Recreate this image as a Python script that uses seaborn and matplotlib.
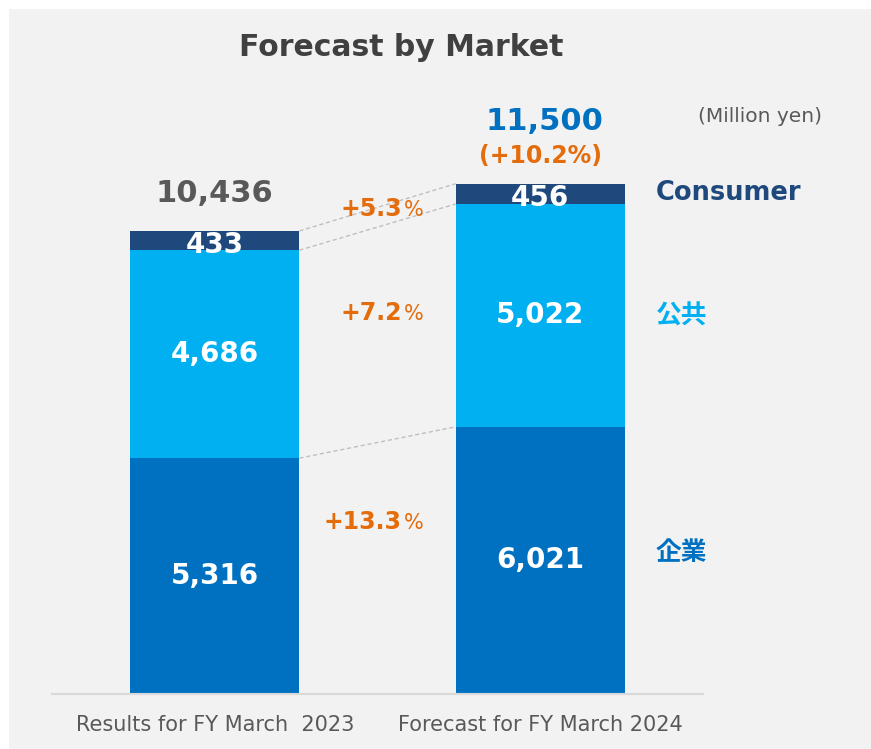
import matplotlib
matplotlib.use("Agg")
import matplotlib.pyplot as plt
import seaborn as sns
import pandas as pd
from matplotlib.patches import Rectangle

sns.set_theme(style="white")
plt.rcParams['font.family'] = ['DejaVu Sans', 'Noto Sans CJK JP']

# data (million yen)
periods = ["Results for FY March  2023", "Forecast for FY March 2024"]
enterprise = [5316, 6021]
public = [4686, 5022]
consumer = [433, 456]
totals = [10436, 11500]
growth_seg = ["+13.3", "+7.2", "+5.3"]   # enterprise, public, consumer
growth_total = "(+10.2%)"
seg_names = ["企業", "公共", "Consumer"]

c_ent = "#0070C0"
c_pub = "#00B0F0"
c_con = "#1F497D"
c_orange = "#E46C0A"
c_gray = "#595959"

df = pd.DataFrame({
    "period": periods,
    "ent": enterprise,
    "pub": public,
    "con": consumer,
})
df["ent_pub"] = df["ent"] + df["pub"]
df["top"] = df["ent_pub"] + df["con"]

fig = plt.figure(figsize=(8.71, 7.49), dpi=100, facecolor="white")
# grey panel
fig.patches.append(Rectangle((9 / 871, 0), 1, 1 - 9 / 749, transform=fig.transFigure,
                             facecolor="#F2F2F2", edgecolor="none", zorder=-1))

ax = fig.add_axes([52 / 871, 55 / 749, 651 / 871, 665.6 / 749])
ax.set_facecolor("none")

bw = 0.52
for col, c in [("top", c_con), ("ent_pub", c_pub), ("ent", c_ent)]:
    sns.barplot(data=df, x="period", y=col, color=c, width=bw, saturation=1,
                linewidth=0, edgecolor="none", ax=ax)

ax.set_xlim(-0.5, 1.5)
ax.set_ylim(0, 15000)
ax.set_xlabel("")
ax.set_ylabel("")
ax.set_yticks([])
for s in ["top", "right", "left"]:
    ax.spines[s].set_visible(False)
ax.spines["bottom"].set_color("#D9D9D9")
ax.spines["bottom"].set_linewidth(1.5)
ax.tick_params(axis="x", length=0, pad=15, labelsize=15, labelcolor=c_gray)

# segment value labels
for i in range(2):
    e, p, c = enterprise[i], public[i], consumer[i]
    ax.text(i, e * 0.5, f"{e:,}", ha="center", va="center", color="white",
            fontsize=20, fontweight="bold")
    ax.text(i, e + p * 0.5, f"{p:,}", ha="center", va="center", color="white",
            fontsize=20, fontweight="bold")
    ax.text(i, e + p + c * 0.5 - 90, f"{c:,}", ha="center", va="center", color="white",
            fontsize=20, fontweight="bold")

# totals
ax.text(0, totals[0] + 850, f"{totals[0]:,}", ha="center", va="center", color=c_gray,
        fontsize=22, fontweight="bold")
ax.text(1.012, totals[1] + 1400, f"{totals[1]:,}", ha="center", va="center", color=c_ent,
        fontsize=22, fontweight="bold")
ax.text(1.0, totals[1] + 620, growth_total, ha="center", va="center", color=c_orange,
        fontsize=17, fontweight="bold")

# connector lines
x0, x1 = bw / 2, 1 - bw / 2
for ya, yb in [(df["top"][0], df["top"][1]), (df["ent_pub"][0], df["ent_pub"][1]),
               (df["ent"][0], df["ent"][1])]:
    ax.plot([x0, x1], [ya, yb], ls=(0, (3, 2)), color="#BFBFBF", lw=1)

# growth labels between bars
g_y = [3720, 8430, 10780]
for g, y in zip(growth_seg, g_y):
    ax.text(0.575, y, g, ha="right", va="baseline", color=c_orange, fontsize=17, fontweight="bold")
    ax.text(0.58, y, "%", ha="left", va="baseline", color=c_orange, fontsize=15)

# segment names on the right
name_y = [3180, 8500, 11300]
for n, y, col in zip(seg_names, name_y, [c_ent, c_pub, c_con]):
    ax.text(1.355, y, n, ha="left", va="center", color=col, fontsize=18.5, fontweight="bold")

fig.text(401 / 871, 1 - 48 / 749, "Forecast by Market", ha="center", va="center",
         fontsize=21.5, fontweight="bold", color="#404040")
fig.text(760 / 871, 1 - 117 / 749, "(Million yen)", ha="center", va="center",
         fontsize=14.5, color=c_gray)

fig.savefig("out.png", dpi=100, facecolor="white")
